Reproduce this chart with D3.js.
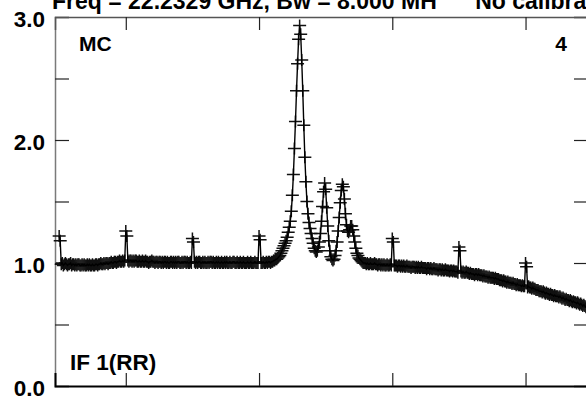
<!DOCTYPE html>
<html>
<head>
<meta charset="utf-8">
<script src="https://cdn.jsdelivr.net/npm/d3@7"></script>
<style>
  html, body { margin: 0; padding: 0; background: #fff; }
  svg { display: block; font-family: "Liberation Sans", Arial, sans-serif; font-weight: bold; }
</style>
</head>
<body>
<div id="chart"></div>
<script>
// spectrum, one value per channel (channel 0 .. 507)
const baseLeft = [ // ch 0 - 204
  1.22,1.18,0.99,1.00,0.98,0.99,1.00,0.99,0.98,0.99,0.99,1.00,0.98,0.99,0.99,0.98,
  0.99,0.98,0.99,0.99,0.98,0.98,0.99,0.98,0.99,0.98,0.98,0.99,0.98,0.99,0.98,0.98,
  0.99,0.98,0.98,0.99,0.99,0.98,0.99,0.99,1.00,0.99,0.99,1.00,0.99,1.00,1.00,0.99,
  1.00,1.00,1.01,1.00,1.00,1.01,1.01,1.00,1.01,1.01,1.02,1.01,1.01,1.02,1.01,1.02,
  1.26,1.22,1.02,1.01,1.02,1.02,1.01,1.02,1.01,1.02,1.02,1.01,1.01,1.02,1.01,1.01,
  1.02,1.01,1.01,1.02,1.01,1.01,1.00,1.01,1.01,1.02,1.01,1.01,1.00,1.01,1.01,1.00,
  1.01,1.01,1.00,1.01,1.00,1.01,1.01,1.00,1.01,1.00,1.00,1.01,1.01,1.00,1.01,1.00,
  1.01,1.00,1.01,1.01,1.00,1.00,1.01,1.00,1.01,1.01,1.00,1.01,1.00,1.00,1.01,1.00,
  1.20,1.17,1.01,1.00,1.01,1.00,1.01,1.01,1.00,1.00,1.01,1.00,1.01,1.00,1.00,1.01,
  1.00,1.01,1.01,1.00,1.01,1.00,1.00,1.01,1.00,1.01,1.00,1.00,1.01,1.00,1.00,1.01,
  1.00,1.01,1.00,1.00,1.01,1.00,1.00,1.01,1.01,1.00,1.00,1.01,1.00,1.00,1.01,1.00,
  1.00,1.01,1.00,1.00,1.00,1.01,1.00,1.00,1.01,1.00,1.00,1.00,1.01,1.00,1.00,1.00,
  1.22,1.19,1.00,1.00,1.01,1.00,1.00,1.01,1.00,1.01,1.01,1.00,1.01
];
const lineRegion = [ // ch 205 - 293
  1.01,1.02,1.02,1.03,1.03,1.04,1.05,1.06,
  1.08,1.10,1.12,1.14,1.16,1.18,1.21,1.25,
  1.29,1.34,1.42,1.55,1.72,1.93,2.15,2.40,
  2.62,2.82,2.93,2.86,2.65,2.40,2.12,1.86,
  1.66,1.50,1.40,1.33,1.28,1.24,1.20,1.16,
  1.12,1.10,1.09,1.10,1.13,1.17,1.24,1.34,
  1.46,1.58,1.65,1.60,1.45,1.30,1.18,1.10,
  1.05,1.03,1.02,1.03,1.06,1.10,1.17,1.26,
  1.37,1.49,1.59,1.64,1.62,1.52,1.40,1.31,
  1.26,1.25,1.27,1.30,1.30,1.27,1.22,1.17,
  1.12,1.08,1.06,1.04,1.03,1.02,1.01,1.00,1.00
];
const baseRight = [ // ch 294 - 507
  1.00,0.99,1.00,0.99,0.99,1.00,0.99,0.99,0.99,1.00,0.99,0.99,0.98,0.99,0.99,0.98,
  0.99,0.98,0.99,0.98,0.98,0.99,0.98,0.98,0.99,0.98,
  1.20,1.17,0.98,0.98,0.98,0.97,0.98,0.98,0.97,0.98,0.97,0.98,0.97,0.97,0.98,0.97,
  0.97,0.97,0.96,0.97,0.97,0.97,0.96,0.97,0.96,0.97,0.96,0.96,0.97,0.96,0.96,0.96,
  0.96,0.95,0.96,0.96,0.95,0.96,0.95,0.95,0.96,0.95,0.95,0.95,0.94,0.95,0.95,0.94,
  0.95,0.94,0.94,0.95,0.94,0.94,0.94,0.93,0.94,0.94,0.93,0.94,0.93,0.93,0.93,0.92,
  1.13,1.10,0.93,0.92,0.93,0.92,0.92,0.93,0.92,0.92,0.91,0.92,0.91,0.91,0.91,0.90,
  0.91,0.91,0.90,0.91,0.90,0.90,0.90,0.89,0.90,0.89,0.89,0.89,0.88,0.89,0.88,0.88,
  0.88,0.88,0.87,0.88,0.87,0.87,0.87,0.86,0.86,0.86,0.85,0.86,0.85,0.85,0.84,0.85,
  0.84,0.84,0.84,0.83,0.84,0.83,0.83,0.82,0.83,0.82,0.82,0.82,0.81,0.82,0.81,0.81,
  1.00,0.97,0.80,0.81,0.80,0.80,0.79,0.80,0.79,0.79,0.78,0.78,0.78,0.77,0.77,0.77,
  0.76,0.77,0.76,0.75,0.76,0.75,0.75,0.74,0.75,0.74,0.74,0.73,0.74,0.73,0.73,0.73,
  0.72,0.73,0.72,0.71,0.72,0.71,0.70,0.71,0.70,0.70,0.69,0.70,0.69,0.68,0.69,0.68,
  0.68,0.67,0.68,0.67,0.66,0.67,0.66,0.65,0.66,0.65,0.64,0.64
];

const xTicks = [64, 192, 320, 448];
const yTicks = [0, 0.5, 1, 1.5, 2, 2.5, 3];
const titleText = "Freq = 22.2329 GHz, Bw = 8.000 MH      No calibration";
const cornerLabels = { topLeft: "MC", topRight: "4", bottomLeft: "IF 1(RR)" };

document.addEventListener("DOMContentLoaded", function() {
    const width = 586, height = 397;
    const plot = { left: 55, right: 588, top: 17, bottom: 386 };
    const fontSize = 22.5;

    const spectrum = baseLeft.concat(lineRegion, baseRight)
        .map((v, i) => ({ ch: i, v: v }));

    const svg = d3.select("#chart").append("svg")
        .attr("width", width)
        .attr("height", height);

    svg.append("rect").attr("width", width).attr("height", height).attr("fill", "#fff");

    const x = d3.scaleLinear().domain([-4, 508]).range([plot.left, plot.right]);
    const y = d3.scaleLinear().domain([0, 3]).range([plot.bottom, plot.top]);

    // frame + ticks
    const gridCol = "#7a7a7a";
    const left = svg.append("g")
        .attr("transform", `translate(${plot.left},0)`)
        .call(d3.axisLeft(y).tickValues(yTicks).tickSize(-14).tickPadding(10)
            .tickFormat(d => Number.isInteger(d) ? d.toFixed(1) : ""));
    left.select(".domain").attr("stroke", gridCol).attr("stroke-width", 1.5);
    left.selectAll(".tick line").attr("stroke", "#222").attr("stroke-width", 1.2);
    left.selectAll(".tick text")
        .attr("fill", "#000")
        .style("font-size", fontSize + "px")
        .style("font-weight", "bold")
        .style("font-family", '"Liberation Sans", Arial, sans-serif')
        .attr("dy", "0.4em");

    const right = svg.append("g")
        .attr("transform", `translate(${plot.right},0)`)
        .call(d3.axisRight(y).tickValues(yTicks).tickSize(-14).tickFormat(""));
    right.select(".domain").attr("stroke", gridCol).attr("stroke-width", 1.5);
    right.selectAll(".tick line").attr("stroke", "#222").attr("stroke-width", 1.2);

    const top = svg.append("g")
        .attr("transform", `translate(0,${plot.top})`)
        .call(d3.axisTop(x).tickValues(xTicks).tickSize(-13).tickFormat(""));
    top.select(".domain").attr("stroke", "#555").attr("stroke-width", 1.5);
    top.selectAll(".tick line").attr("stroke", "#222").attr("stroke-width", 1.2);

    const bottom = svg.append("g")
        .attr("transform", `translate(0,${plot.bottom})`)
        .call(d3.axisBottom(x).tickValues(xTicks).tickSize(-13).tickFormat(""));
    bottom.select(".domain").attr("stroke", "#000").attr("stroke-width", 2);
    bottom.selectAll(".tick line").attr("stroke", "#222").attr("stroke-width", 1.2);

    // title (cut off at the top of the page, as in the original)
    svg.append("text")
        .attr("x", 52)
        .attr("y", 9)
        .attr("font-size", 23)
        .attr("fill", "#000")
        .style("white-space", "pre")
        .text(titleText);

    svg.append("text").attr("x", 79).attr("y", 51).attr("font-size", 21).text(cornerLabels.topLeft);
    svg.append("text").attr("x", 567).attr("y", 51).attr("font-size", 21)
        .attr("text-anchor", "end").text(cornerLabels.topRight);
    svg.append("text").attr("x", 70).attr("y", 370).attr("font-size", fontSize).text(cornerLabels.bottomLeft);

    // the spectrum: line through channels, + at every channel
    const line = d3.line().x(d => x(d.ch)).y(d => y(d.v));

    svg.append("g")
        .attr("class", "marks")
        .selectAll("path")
        .data(spectrum)
        .join("path")
        .attr("d", d => `M${x(d.ch) - 6.5},${y(d.v)}H${x(d.ch) + 6.5}M${x(d.ch)},${y(d.v) - 6}V${y(d.v) + 6}`)
        .attr("fill", "none")
        .attr("stroke", "#111")
        .attr("stroke-width", 1.5);

    svg.append("path")
        .datum(spectrum)
        .attr("d", line)
        .attr("fill", "none")
        .attr("stroke", "#000")
        .attr("stroke-width", 1.4);
});
</script>
</body>
</html>
